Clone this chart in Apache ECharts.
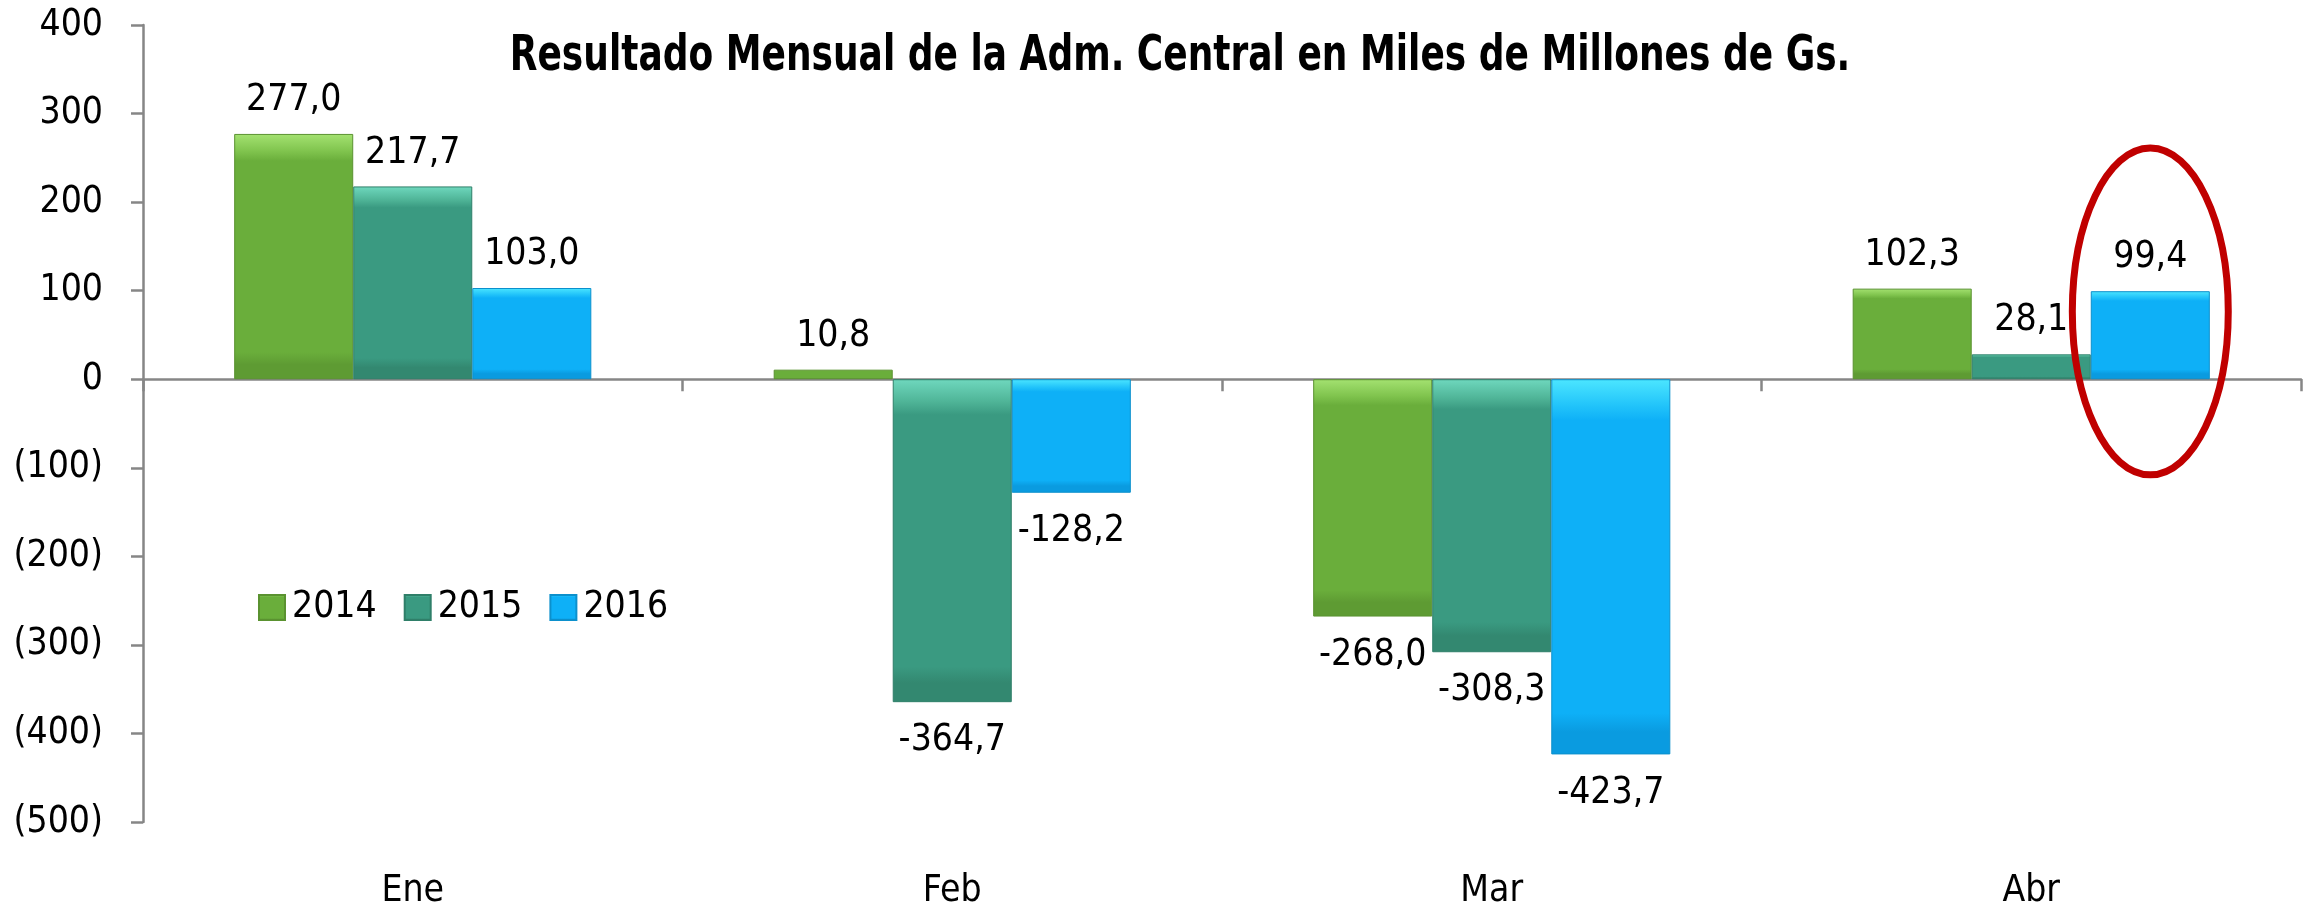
<!DOCTYPE html>
<html>
<head>
<meta charset="utf-8">
<title>Resultado Mensual de la Adm. Central</title>
<script src="https://cdn.jsdelivr.net/npm/echarts@6/dist/echarts.min.js"></script>
<style>
  html, body { margin: 0; padding: 0; background: #fff; }
  #chart { width: 2313px; height: 910px; }
</style>
</head>
<body>
<div id="chart"></div>
<script>
// datos
const meses = ['Ene', 'Feb', 'Mar', 'Abr'];
const anios = ['2014', '2015', '2016'];
const v2014 = [277.0, 10.8, -268.0, 102.3];
const v2015 = [217.7, -364.7, -308.3, 28.1];
const v2016 = [103.0, -128.2, -423.7, 99.4];
const yTicks = [-500, -400, -300, -200, -100, 0, 100, 200, 300, 400];
// elipse roja alrededor de Abr 2016 (rango en valores del eje)
const elipseRango = [-108, 261];
const titulo = 'Resultado Mensual de la Adm. Central en Miles de Millones de Gs.';

const FONT = "'Liberation Sans Narrow', 'Arial Narrow', 'DejaVu Sans Condensed', sans-serif";
const TXT = 37;

// degradados que imitan el biselado de Excel
function bisel(claro, medio, base, oscuro) {
    return new echarts.graphic.LinearGradient(0, 0, 0, 1, [
        { offset: 0, color: claro },
        { offset: 0.07, color: medio },
        { offset: 0.11, color: base },
        { offset: 0.89, color: base },
        { offset: 0.94, color: oscuro },
        { offset: 1, color: oscuro }
    ]);
}
const estilos = [
    { color: bisel('#A4E271', '#80C44E', '#6AAE3B', '#5E9B33'), borderColor: '#5A9230' },
    { color: bisel('#6FD8BE', '#4FB497', '#3A9A81', '#338870'), borderColor: '#2F7F69' },
    { color: bisel('#4CE6FF', '#22C4FA', '#0EB0F7', '#0A9BE0'), borderColor: '#0C90CC' }
];

function fmtValor(v) {
    return v.toFixed(1).replace('.', ',');
}

function armarDatos(vals) {
    return vals.map(v => ({
        value: v,
        label: v < 0 ? { position: 'bottom', distance: 20 } : { position: 'top', distance: 15 }
    }));
}

const series = [v2014, v2015, v2016].map((vals, i) => ({
    name: anios[i],
    type: 'bar',
    xAxisIndex: 0,
    barGap: '0%',
    barCategoryGap: '33.8%',
    itemStyle: { color: estilos[i].color, borderColor: estilos[i].borderColor, borderWidth: 1 },
    label: {
        show: true,
        fontFamily: FONT,
        fontSize: TXT,
        color: '#000',
        formatter: p => fmtValor(p.value)
    },
    data: armarDatos(vals)
}));

const chart = echarts.init(document.getElementById('chart'));

chart.setOption({
    animation: false,
    backgroundColor: '#fff',
    legend: {
        data: anios,
        left: 253,
        top: 584,
        itemWidth: 26,
        itemHeight: 25,
        itemGap: 27,
        icon: 'rect',
        textStyle: { fontFamily: FONT, fontSize: TXT, color: '#000', padding: [0, 0, 0, 2] }
    },
    grid: { left: 143, right: 12, top: 25, bottom: 74, containLabel: false },
    xAxis: [
        {
            type: 'category',
            data: meses,
            axisLine: { onZero: true, lineStyle: { color: '#868686', width: 2.5 } },
            axisTick: { show: true, length: 12, lineStyle: { color: '#868686', width: 2.5 } },
            axisLabel: { show: false },
            splitLine: { show: false }
        },
        {
            type: 'category',
            data: meses,
            position: 'bottom',
            axisLine: { show: false, onZero: false },
            axisTick: { show: false },
            axisLabel: { fontFamily: FONT, fontSize: TXT, color: '#000', margin: 51 },
            splitLine: { show: false }
        }
    ],
    yAxis: {
        type: 'value',
        min: yTicks[0],
        max: yTicks[yTicks.length - 1],
        interval: 100,
        axisLine: { show: true, lineStyle: { color: '#868686', width: 2.5 } },
        axisTick: { show: true, length: 12, lineStyle: { color: '#868686', width: 2.5 } },
        splitLine: { show: false },
        axisLabel: {
            fontFamily: FONT,
            fontSize: TXT,
            color: '#000',
            margin: 40,
            formatter: v => v < 0 ? '(' + Math.abs(v) + ')' : String(v)
        }
    },
    series: series
});

// titulo (condensado) y elipse de resaltado sobre la barra Abr 2016
(function dibujarExtras() {
    const datos = chart.getModel().getSeriesByIndex(2).getData();
    const idx = meses.indexOf('Abr');
    const lay = datos.getItemLayout(idx);
    const yArriba = chart.convertToPixel({ yAxisIndex: 0 }, elipseRango[1]);
    const yAbajo = chart.convertToPixel({ yAxisIndex: 0 }, elipseRango[0]);
    const cx = lay.x + lay.width / 2;
    chart.setOption({
        graphic: [
            {
                type: 'text',
                x: 1180,
                y: 57,
                scaleX: 0.8,
                style: {
                    text: titulo,
                    fontFamily: FONT,
                    fontWeight: 'bold',
                    fontSize: 50,
                    fill: '#000',
                    align: 'center',
                    verticalAlign: 'middle'
                }
            },
            {
                type: 'ellipse',
                shape: { cx: cx, cy: (yArriba + yAbajo) / 2, rx: lay.width * 0.655, ry: (yAbajo - yArriba) / 2 },
                style: { fill: 'none', stroke: '#C00000', lineWidth: 7 },
                z: 100
            }
        ]
    });
})();
</script>
</body>
</html>
